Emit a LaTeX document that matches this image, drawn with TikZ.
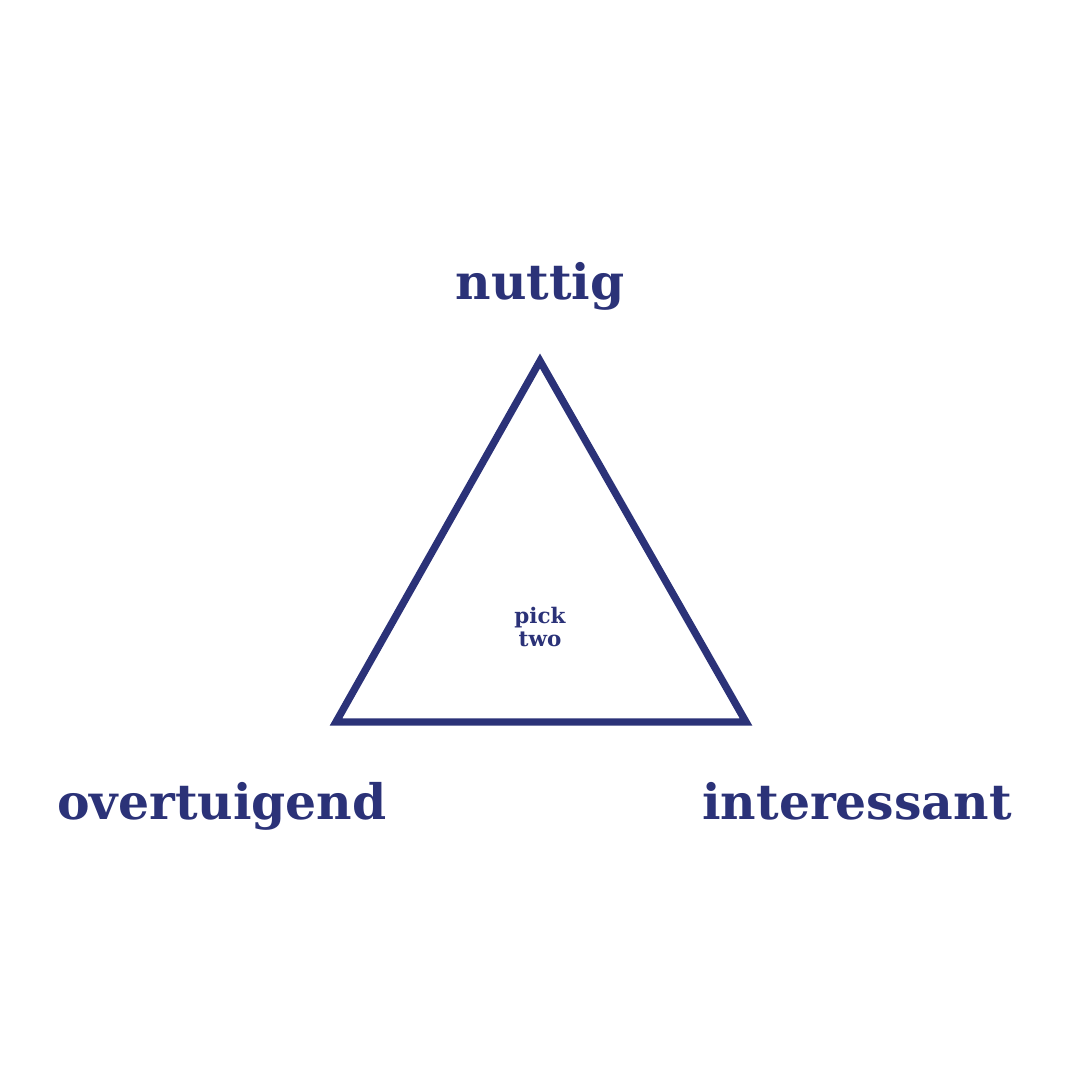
\documentclass[tikz,border=0pt]{standalone}
\usepackage{fontspec}
\setmainfont{DejaVu Serif}
\usetikzlibrary{positioning}
\definecolor{navy}{RGB}{43,50,120}

\begin{document}
\begin{tikzpicture}[
        corner/.style={font=\fontsize{13.9}{16}\selectfont\bfseries, text=navy, anchor=base, inner sep=0pt},
        hint/.style={font=\fontsize{6.1}{6.8}\selectfont\bfseries, text=navy, align=center, inner sep=0pt},
        side/.style={navy, line width=2.1pt, line join=miter}]
        \useasboundingbox (0,0) rectangle (10.8,10.8);
        % Triangle corners
        \coordinate (apex)  at (5.40,7.19);
        \coordinate (left)  at (3.36,3.58);
        \coordinate (right) at (7.46,3.58);
        \draw[side] (apex) -- (right) -- (left) -- cycle;
        % Labels
        \node[corner] (useful)      at (5.40,7.80) {nuttig};
        \node[corner] (convincing)  at (2.22,2.60) {overtuigend};
        \node[corner] (interesting) at (8.57,2.60) {interessant};
        \node[hint, anchor=base] (pick) at (5.40,4.33) {pick\\two};
\end{tikzpicture}
\end{document}
